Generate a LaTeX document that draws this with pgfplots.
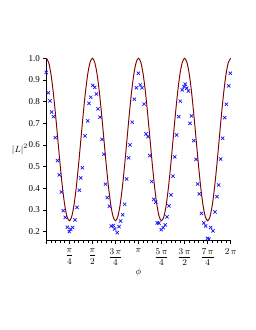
\documentclass[border=0pt]{standalone}
\usepackage{amsmath}
\usepackage{fontspec}
\setmainfont{Liberation Serif}
\usepackage{pgfplots}
\pgfplotsset{compat=1.18}
\definecolor{curvered}{RGB}{128,0,0}
\definecolor{markblue}{RGB}{20,20,255}
\begin{document}
\begin{tikzpicture}
\path (0,0) rectangle (255pt,330pt);
\begin{axis}[
  at={(46.3pt,89.3pt)}, anchor=south west,
  scale only axis, width=184.4pt, height=182.4pt,
  xmin=0, xmax=6.2832, ymin=0.158, ymax=1.0,
  axis lines=left, axis line style={-, line width=0.6pt},
  tick align=outside, tick style={black, line width=0.5pt},
  major tick length=3pt, minor tick length=1.8pt,
  xtick={0,0.7854,1.5708,2.3562,3.1416,3.9270,4.7124,5.4978,6.2832},
  xticklabels={{},{$\dfrac{\pi}{4}$},{$\dfrac{\pi}{2}$},{$\dfrac{3\,\pi}{4}$},{$\pi$},{$\dfrac{5\,\pi}{4}$},{$\dfrac{3\,\pi}{2}$},{$\dfrac{7\,\pi}{4}$},{$2\,\pi$}},
  minor x tick num=4,
  ytick={0.2,0.3,0.4,0.5,0.6,0.7,0.8,0.9,1.0},
  yticklabel style={/pgf/number format/.cd, fixed, fixed zerofill, precision=1, assume math mode=true},
  tick label style={font=\fontsize{9}{10}\selectfont},
  xticklabel style={yshift=-1pt},
  xlabel={$\phi$}, ylabel={$|L|^2$},
  xlabel style={at={(axis description cs:0.5,-0.172)}, anchor=center, font=\fontsize{9.5}{11}\selectfont},
  ylabel style={at={(axis description cs:-0.143,0.5)}, rotate=-90, anchor=center, font=\fontsize{9.5}{11}\selectfont},
  clip=false,
]
\addplot[smooth, color=curvered, line width=0.95pt] coordinates {
(0,1.0) (0.0785,0.9816) (0.1571,0.9284) (0.2356,0.8454) (0.3142,0.7409) (0.3927,0.625) (0.4712,0.5091) (0.5498,0.4046) (0.6283,0.3216) (0.7069,0.2684)
(0.7854,0.25) (0.8639,0.2684) (0.9425,0.3216) (1.0210,0.4046) (1.0996,0.5091) (1.1781,0.625) (1.2566,0.7409) (1.3352,0.8454) (1.4137,0.9284) (1.4923,0.9816)
(1.5708,1.0) (1.6493,0.9816) (1.7279,0.9284) (1.8064,0.8454) (1.8850,0.7409) (1.9635,0.625) (2.0420,0.5091) (2.1206,0.4046) (2.1991,0.3216) (2.2777,0.2684)
(2.3562,0.25) (2.4347,0.2684) (2.5133,0.3216) (2.5918,0.4046) (2.6704,0.5091) (2.7489,0.625) (2.8274,0.7409) (2.9060,0.8454) (2.9845,0.9284) (3.0631,0.9816)
(3.1416,1.0) (3.2201,0.9816) (3.2987,0.9284) (3.3772,0.8454) (3.4558,0.7409) (3.5343,0.625) (3.6128,0.5091) (3.6914,0.4046) (3.7699,0.3216) (3.8485,0.2684)
(3.9270,0.25) (4.0055,0.2684) (4.0841,0.3216) (4.1626,0.4046) (4.2412,0.5091) (4.3197,0.625) (4.3982,0.7409) (4.4768,0.8454) (4.5553,0.9284) (4.6339,0.9816)
(4.7124,1.0) (4.7909,0.9816) (4.8695,0.9284) (4.9480,0.8454) (5.0265,0.7409) (5.1051,0.625) (5.1836,0.5091) (5.2622,0.4046) (5.3407,0.3216) (5.4192,0.2684)
(5.4978,0.25) (5.5763,0.2684) (5.6549,0.3216) (5.7334,0.4046) (5.8119,0.5091) (5.8905,0.625) (5.9690,0.7409) (6.0476,0.8454) (6.1261,0.9284) (6.2046,0.9816)
(6.2832,1.0)
};
\addplot[only marks, mark=x, mark size=2.3pt, color=markblue, mark options={line width=0.7pt}] table {
x y
0.000 0.935
0.068 0.841
0.126 0.803
0.184 0.752
0.245 0.731
0.307 0.634
0.381 0.528
0.443 0.462
0.511 0.383
0.579 0.297
0.647 0.266
0.716 0.220
0.784 0.200
0.831 0.211
0.900 0.219
0.978 0.254
1.045 0.312
1.124 0.391
1.172 0.448
1.227 0.495
1.319 0.642
1.411 0.711
1.455 0.792
1.513 0.820
1.581 0.875
1.649 0.866
1.704 0.835
1.762 0.767
1.830 0.728
1.898 0.626
1.960 0.557
2.015 0.419
2.078 0.357
2.147 0.317
2.215 0.225
2.283 0.228
2.331 0.212
2.419 0.195
2.477 0.223
2.535 0.249
2.603 0.278
2.671 0.326
2.739 0.443
2.807 0.541
2.852 0.600
2.930 0.705
2.998 0.811
3.066 0.864
3.135 0.931
3.203 0.877
3.261 0.864
3.329 0.789
3.400 0.651
3.466 0.638
3.523 0.551
3.591 0.431
3.659 0.349
3.727 0.336
3.782 0.240
3.840 0.239
3.918 0.209
3.986 0.218
4.054 0.231
4.112 0.268
4.181 0.319
4.249 0.369
4.317 0.456
4.373 0.545
4.443 0.646
4.511 0.731
4.566 0.802
4.634 0.854
4.692 0.869
4.736 0.881
4.784 0.862
4.838 0.849
4.896 0.700
4.947 0.734
5.022 0.620
5.100 0.533
5.158 0.420
5.213 0.374
5.288 0.284
5.363 0.240
5.431 0.226
5.492 0.169
5.543 0.165
5.601 0.219
5.680 0.203
5.748 0.291
5.816 0.361
5.874 0.415
5.942 0.535
6.010 0.631
6.078 0.726
6.133 0.788
6.215 0.873
6.269 0.931
};
\end{axis}
\end{tikzpicture}
\end{document}
